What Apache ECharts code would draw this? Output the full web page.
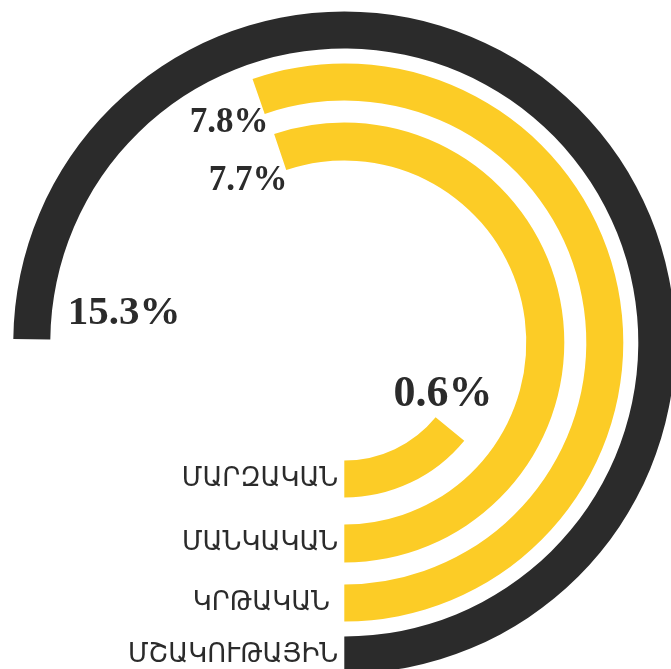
<!DOCTYPE html>
<html>
<head>
<meta charset="utf-8">
<script src="https://cdn.jsdelivr.net/npm/echarts@6/dist/echarts.min.js"></script>
<style>
  html, body { margin: 0; padding: 0; background: #fff; }
  #chart { width: 671px; height: 669px; }
</style>
</head>
<body>
<div id="chart"></div>
<script>
// rings from outside to inside
let categories = ['ՄՇԱԿՈՒԹԱՅԻՆ', 'ԿՐԹԱԿԱՆ ', 'ՄԱՆԿԱԿԱՆ', 'ՄԱՐԶԱԿԱՆ'];
let percents = [15.3, 7.8, 7.7, 0.6];
// sweep of each arc in degrees, as drawn in the picture
let arcs = [269.4, 199.2, 198.6, 50.7];

let colors = ['#2b2b2b', '#fccc26', '#fccc26', '#fccc26'];
let ringRadius = [[294, 331], [242, 279], [182, 220], [118, 155]];
let center = [344.3, 342.5];
let labelPos = [[124, 313, 41], [229, 123, 35], [248, 181, 35], [443, 395, 44]];

let chart = echarts.init(document.getElementById('chart'));

let polar = [], angleAxis = [], radiusAxis = [], series = [];
categories.forEach(function (name, i) {
  polar.push({ center: center, radius: ringRadius[i] });
  angleAxis.push({
    polarIndex: i, type: 'value', min: 0, max: 360,
    startAngle: 270, clockwise: false, show: false
  });
  radiusAxis.push({
    polarIndex: i, type: 'category', data: [name],
    axisLine: { show: false }, axisTick: { show: false }, splitLine: { show: false },
    axisLabel: {
      margin: -6, align: 'right', verticalAlign: 'middle',
      fontFamily: 'DejaVu Sans', fontSize: 26, color: '#2b2b2b'
    }
  });
  series.push({
    type: 'bar', coordinateSystem: 'polar', polarIndex: i,
    barWidth: '100%', silent: true,
    itemStyle: { color: colors[i] },
    data: [arcs[i]]
  });
});

option = {
  animation: false,
  polar: polar,
  angleAxis: angleAxis,
  radiusAxis: radiusAxis,
  series: series,
  graphic: percents.map(function (v, i) {
    return {
      type: 'text', x: labelPos[i][0], y: labelPos[i][1],
      style: {
        text: v.toFixed(1) + '%', fill: '#2b2b2b',
        fontFamily: 'Liberation Serif', fontWeight: 'bold', fontSize: labelPos[i][2],
        align: 'center', verticalAlign: 'middle'
      }
    };
  })
};

chart.setOption(option);
</script>
</body>
</html>
